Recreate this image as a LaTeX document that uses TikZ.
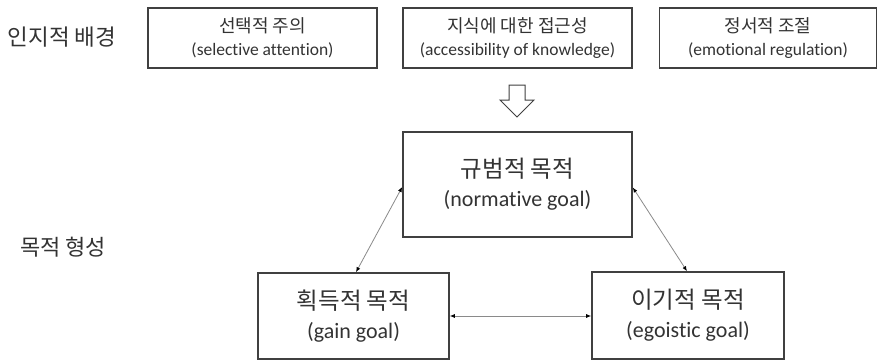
\documentclass[tikz,border=0pt]{standalone}
\usepackage{fontspec}
\setmainfont{Carlito}[Ligatures=CommonOff]
\newfontfamily\kr{Noto Sans CJK KR}
\usetikzlibrary{arrows.meta}
\definecolor{txt}{HTML}{333333}
\definecolor{boxc}{HTML}{404040}
\definecolor{linec}{HTML}{8A8A8A}
\newcommand{\krs}{\kr\fontsize{18}{23}\selectfont}
\newcommand{\krb}{\kr\fontsize{23.5}{29}\selectfont}
\begin{document}
\begin{tikzpicture}[x=1pt,y=-1pt,
  box/.style={draw=boxc, line width=1.6pt, inner sep=0pt, text=txt, align=center},
  smallbox/.style={box, minimum height=60pt, font=\fontsize{17.5}{23}\selectfont},
  bigbox/.style={box, font=\fontsize{22}{29}\selectfont},
  sidelabel/.style={text=txt, inner sep=0pt, font=\kr\fontsize{22.5}{25}\selectfont},
  link/.style={draw=linec, line width=0.8pt, {Latex[length=5pt,width=4pt,color=black]}-{Latex[length=5pt,width=4pt,color=black]}}]
\fill[white] (0,0) rectangle (880,361);
\useasboundingbox (0,0) rectangle (880,361);

\node[sidelabel] (lab1) at (62,37) {인지적 배경};
\node[sidelabel, font=\kr\fontsize{22}{25}\selectfont] (lab2) at (63,247) {목적 형성};

\node[smallbox, minimum width=229pt] (b1) at (262.5,38) {{\krs 선택적 주의}\\(selective attention)};
\node[smallbox, minimum width=229pt] (b2) at (517.5,38) {{\krs 지식에 대한 접근성}\\(accessibility of knowledge)};
\node[smallbox, minimum width=217pt] (b3) at (768,38) {{\krs 정서적 조절}\\(emotional regulation)};

\draw[boxc, line width=1pt, fill=white] (509,85) -- (525,85) -- (525,100) -- (534,100) -- (517,117) -- (500,100) -- (509,100) -- cycle;

\node[bigbox, minimum width=229pt, minimum height=105pt] (norm) at (517.5,184.5) {{\krb 규범적 목적}\\(normative goal)};
\node[bigbox, minimum width=191pt, minimum height=86pt] (gain) at (353.5,316) {{\krb 획득적 목적}\\(gain goal)};
\node[bigbox, minimum width=192pt, minimum height=87pt] (ego) at (688,315.5) {{\krb 이기적 목적}\\(egoistic goal)};

\draw[link] ([xshift=2.5pt]gain.north) -- ([yshift=-2.5pt]norm.west);
\draw[link] ([yshift=-3pt]norm.east) -- ([xshift=-1pt]ego.north);
\draw[link] (gain.east) -- (gain.east -| ego.west);
\end{tikzpicture}
\end{document}
